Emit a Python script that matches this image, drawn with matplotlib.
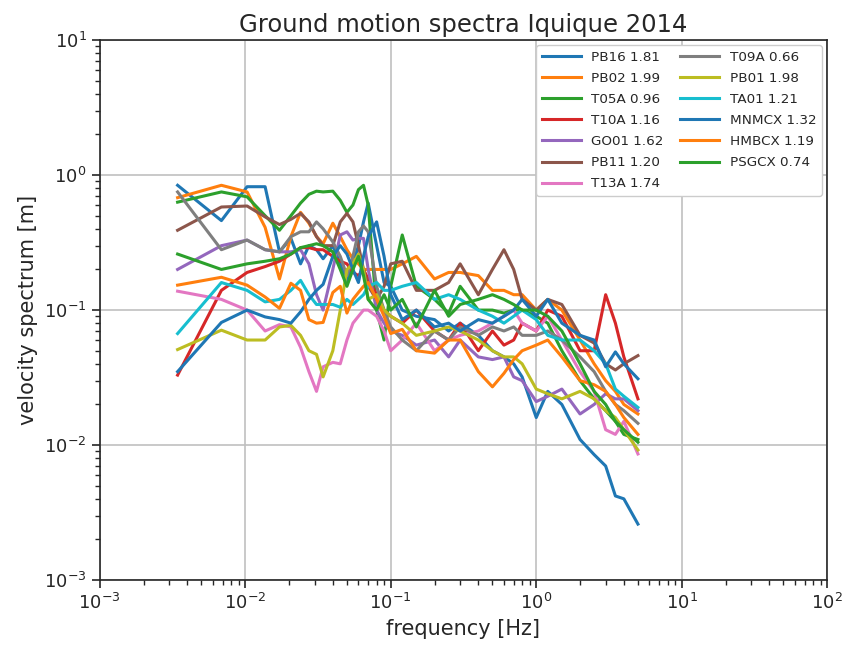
#!/usr/bin/env python3
"""Ground motion velocity spectra, Iquique 2014 — log-log plot per station."""

import matplotlib
matplotlib.use("Agg")
import matplotlib.pyplot as plt

# frequency samples [Hz]
freqs = [0.00343, 0.00686, 0.0103, 0.0137, 0.0172, 0.0206, 0.024, 0.0274, 0.0309, 0.0343,
         0.04, 0.045, 0.05, 0.055, 0.06, 0.065, 0.07, 0.08, 0.09, 0.1,
         0.12, 0.15, 0.2, 0.25, 0.3, 0.4, 0.5, 0.6, 0.7, 0.8,
         1.0, 1.2, 1.5, 2.0, 2.5, 3.0, 3.5, 4.0, 5.0]

# station labels as shown in the legend
stations = ["PB16 1.81", "PB02 1.99", "T05A 0.96", "T10A 1.16", "GO01 1.62", "PB11 1.20",
            "T13A 1.74", "T09A 0.66", "PB01 1.98", "TA01 1.21", "MNMCX 1.32", "HMBCX 1.19",
            "PSGCX 0.74"]

# velocity spectra [m]
pb16 = [0.84, 0.46, 0.82, 0.82, 0.27, 0.34, 0.22, 0.30, 0.28, 0.24,
        0.30, 0.22, 0.16, 0.22, 0.30, 0.45, 0.62, 0.30, 0.16, 0.15,
        0.10, 0.09, 0.085, 0.07, 0.08, 0.065, 0.05, 0.045, 0.04, 0.032,
        0.016, 0.025, 0.02, 0.011, 0.0085, 0.007, 0.0042, 0.004, 0.0026]
pb02 = [0.68, 0.84, 0.75, 0.41, 0.17, 0.35, 0.53, 0.44, 0.35, 0.31,
        0.44, 0.35, 0.28, 0.24, 0.22, 0.20, 0.20, 0.20, 0.20, 0.20,
        0.22, 0.25, 0.17, 0.19, 0.19, 0.18, 0.14, 0.14, 0.13, 0.13,
        0.10, 0.12, 0.10, 0.06, 0.04, 0.03, 0.025, 0.02, 0.017]
t05a = [0.63, 0.75, 0.69, 0.50, 0.39, 0.50, 0.62, 0.72, 0.76, 0.75,
        0.76, 0.65, 0.53, 0.60, 0.78, 0.84, 0.60, 0.10, 0.06, 0.15,
        0.36, 0.15, 0.12, 0.095, 0.15, 0.10, 0.10, 0.095, 0.10, 0.10,
        0.09, 0.08, 0.05, 0.03, 0.022, 0.018, 0.015, 0.012, 0.011]
t10a = [0.033, 0.14, 0.19, 0.21, 0.23, 0.26, 0.29, 0.29, 0.28, 0.28,
        0.25, 0.23, 0.22, 0.19, 0.18, 0.20, 0.17, 0.13, 0.10, 0.09,
        0.08, 0.10, 0.07, 0.06, 0.08, 0.05, 0.07, 0.055, 0.06, 0.08,
        0.07, 0.10, 0.09, 0.05, 0.05, 0.13, 0.08, 0.045, 0.022]
go01 = [0.20, 0.30, 0.33, 0.28, 0.27, 0.27, 0.28, 0.22, 0.13, 0.10,
        0.20, 0.36, 0.38, 0.33, 0.34, 0.34, 0.20, 0.10, 0.08, 0.07,
        0.065, 0.055, 0.06, 0.045, 0.06, 0.045, 0.043, 0.045, 0.032, 0.03,
        0.021, 0.023, 0.026, 0.017, 0.02, 0.024, 0.022, 0.022, 0.018]
pb11 = [0.39, 0.58, 0.59, 0.49, 0.43, 0.47, 0.52, 0.45, 0.35, 0.30,
        0.30, 0.45, 0.52, 0.45, 0.30, 0.20, 0.15, 0.12, 0.15, 0.22,
        0.23, 0.14, 0.14, 0.16, 0.22, 0.13, 0.20, 0.28, 0.20, 0.12,
        0.10, 0.12, 0.11, 0.065, 0.057, 0.04, 0.036, 0.04, 0.046]
t13a = [0.138, 0.12, 0.10, 0.07, 0.078, 0.075, 0.053, 0.035, 0.025, 0.038,
        0.041, 0.04, 0.06, 0.08, 0.09, 0.10, 0.10, 0.09, 0.07, 0.05,
        0.06, 0.08, 0.05, 0.06, 0.065, 0.07, 0.08, 0.09, 0.10, 0.08,
        0.07, 0.09, 0.06, 0.035, 0.025, 0.013, 0.012, 0.015, 0.0086]
t09a = [0.75, 0.28, 0.33, 0.28, 0.27, 0.35, 0.38, 0.38, 0.45, 0.40,
        0.32, 0.25, 0.18, 0.25, 0.38, 0.42, 0.38, 0.15, 0.10, 0.075,
        0.06, 0.05, 0.07, 0.06, 0.075, 0.065, 0.075, 0.07, 0.075, 0.065,
        0.065, 0.07, 0.06, 0.045, 0.035, 0.025, 0.02, 0.018, 0.0145]
pb01 = [0.051, 0.071, 0.06, 0.06, 0.075, 0.077, 0.065, 0.05, 0.047, 0.032,
        0.05, 0.10, 0.20, 0.22, 0.26, 0.20, 0.12, 0.13, 0.10, 0.09,
        0.08, 0.065, 0.07, 0.075, 0.07, 0.06, 0.05, 0.045, 0.045, 0.04,
        0.026, 0.024, 0.022, 0.025, 0.022, 0.018, 0.016, 0.013, 0.0092]
ta01 = [0.067, 0.16, 0.14, 0.115, 0.12, 0.14, 0.166, 0.13, 0.11, 0.11,
        0.11, 0.105, 0.12, 0.11, 0.12, 0.13, 0.15, 0.16, 0.14, 0.14,
        0.15, 0.16, 0.12, 0.13, 0.12, 0.10, 0.09, 0.08, 0.09, 0.10,
        0.085, 0.065, 0.06, 0.06, 0.05, 0.04, 0.026, 0.023, 0.019]
mnmcx = [0.035, 0.081, 0.10, 0.089, 0.085, 0.08, 0.097, 0.12, 0.14, 0.155,
         0.25, 0.30, 0.26, 0.20, 0.16, 0.25, 0.35, 0.45, 0.25, 0.13,
         0.085, 0.10, 0.075, 0.08, 0.07, 0.085, 0.08, 0.09, 0.10, 0.12,
         0.09, 0.12, 0.08, 0.065, 0.06, 0.038, 0.049, 0.04, 0.031]
hmbcx = [0.153, 0.175, 0.153, 0.125, 0.103, 0.158, 0.14, 0.085, 0.08, 0.081,
         0.135, 0.15, 0.095, 0.12, 0.135, 0.15, 0.16, 0.12, 0.09, 0.067,
         0.072, 0.05, 0.048, 0.06, 0.06, 0.035, 0.027, 0.034, 0.043, 0.05,
         0.055, 0.06, 0.045, 0.03, 0.028, 0.025, 0.02, 0.016, 0.012]
psgcx = [0.26, 0.20, 0.22, 0.23, 0.24, 0.26, 0.29, 0.30, 0.31, 0.30,
         0.27, 0.20, 0.15, 0.20, 0.25, 0.18, 0.12, 0.10, 0.13, 0.10,
         0.12, 0.075, 0.14, 0.09, 0.11, 0.12, 0.13, 0.12, 0.11, 0.10,
         0.10, 0.09, 0.07, 0.04, 0.025, 0.02, 0.015, 0.013, 0.0105]

spectra = [pb16, pb02, t05a, t10a, go01, pb11, t13a, t09a, pb01, ta01, mnmcx, hmbcx, psgcx]

TEXT = "#262626"


def main():
    fig = plt.figure(figsize=(8.45, 6.46), dpi=100)
    ax = fig.add_axes([0.118, 0.102, 0.861, 0.836])

    for i, (label, vals) in enumerate(zip(stations, spectra)):
        ax.loglog(freqs, vals, color=f"C{i % 10}", lw=2.2, label=label)

    ax.set_xlim(1e-3, 1e2)
    ax.set_ylim(1e-3, 1e1)
    ax.grid(True, which="major", color="#c0c0c0", lw=1.2)
    ax.set_axisbelow(True)
    ax.tick_params(axis="both", which="major", labelsize=13, direction="out", length=6,
                   width=1.2, color=TEXT, labelcolor=TEXT, top=False, right=False)
    ax.tick_params(axis="both", which="minor", direction="out", length=3.5,
                   width=1.0, color=TEXT, top=False, right=False)
    for sp in ax.spines.values():
        sp.set_color(TEXT)
        sp.set_linewidth(1.2)

    ax.set_title("Ground motion spectra Iquique 2014", fontsize=17.5, color=TEXT)
    ax.set_xlabel("frequency [Hz]", fontsize=15, color=TEXT)
    ax.set_ylabel("velocity spectrum [m]", fontsize=15, color=TEXT)
    leg = ax.legend(ncol=2, loc="upper right", fontsize=9.7, framealpha=1, edgecolor="#cccccc",
                    handlelength=2.9, columnspacing=1.2, labelspacing=0.6, borderaxespad=0.4)
    for t in leg.get_texts():
        t.set_color(TEXT)

    fig.savefig("out.png", dpi=100)
    plt.close(fig)


if __name__ == "__main__":
    main()
